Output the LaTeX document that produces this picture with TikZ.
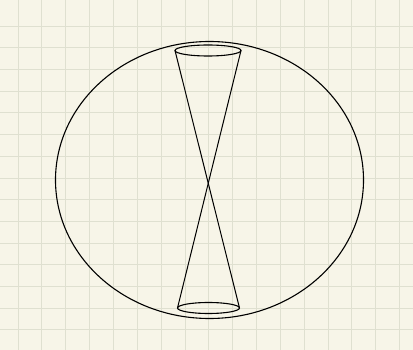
\documentclass[tikz,border=0pt]{standalone}
\usepackage{tikz}
\usepackage{xcolor}
\usetikzlibrary{calc}

\definecolor{paper}{HTML}{F7F5E8}
\definecolor{gridline}{HTML}{DFE0D0}

\begin{document}
\begin{tikzpicture}[
    x=1pt, y=-1pt,
    gridlines/.style={draw=gridline, line width=0.9pt},
    outline/.style={draw=black, line width=1.1pt},
    coneline/.style={draw=black, line width=1.0pt, line cap=round}
]

    % Paper and grid
    \fill [paper] (0,0) rectangle (413,350);
    \useasboundingbox (0,0) rectangle (413,350);
    \foreach \i in {0,...,16} {
        \draw [gridlines] (18+23.85*\i, 0) -- (18+23.85*\i, 350);
    }
    \foreach \j in {0,...,14} {
        \draw [gridlines] (0, 26+21.71*\j) -- (413, 26+21.71*\j);
    }

    % Outer ellipse
    \coordinate (centre) at (209.5,180);
    \draw [outline] (centre) ellipse [x radius=154, y radius=138.5];

    % Double cone
    \coordinate (topRim) at (208,50.5);
    \coordinate (bottomRim) at (208.5,308);
    \draw [outline] (topRim) ellipse [x radius=33, y radius=5.5];
    \draw [outline] (bottomRim) ellipse [x radius=31, y radius=5.5];

    \coordinate (topWest) at ($(topRim)+(-33,0)$);
    \coordinate (topEast) at ($(topRim)+(33,0)$);
    \coordinate (bottomWest) at ($(bottomRim)+(-31,0)$);
    \coordinate (bottomEast) at ($(bottomRim)+(31,0)$);

    \draw [coneline] (topWest) -- (bottomEast);
    \draw [coneline] (topEast) -- (bottomWest);

\end{tikzpicture}
\end{document}
